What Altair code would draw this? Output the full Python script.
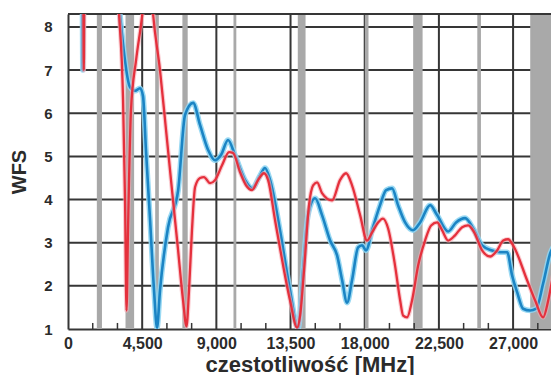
import altair as alt
import pandas as pd

# ---- data (frequency in kHz, WFS) ----
freq_blue = [700, 860, 900, 940, 2900, 3150, 3760, 4070, 4370, 4550, 4730, 4980, 5220, 5400,
             5580, 6070, 6680, 7100, 7590, 8010, 8500, 8920, 9280, 9710, 10130, 10740,
             11170, 11650, 11950, 12260, 12860, 13470, 13960, 14260, 14560, 14990, 15410,
             15900, 16320, 16630, 16930, 17230, 17600, 17840, 18080, 18450, 18930, 19300,
             19660, 20020, 20450, 20930, 21360, 21970, 22390, 23060, 23540, 24090, 24580,
             25120, 25730, 26210, 26640, 26940, 27250, 27610, 28030, 28400, 28820, 29250, 29800]
wfs_blue = [9.4, 9.4, 7.0, 9.4, 9.4, 8.3, 6.61, 6.52, 6.58, 6.40, 5.14, 3.52, 1.89, 1.03,
            1.89, 3.36, 4.21, 5.96, 6.24, 5.73, 5.15, 4.91, 5.03, 5.38, 5.03, 4.45,
            4.26, 4.56, 4.73, 4.45, 3.29, 1.89, 1.01, 2.36, 3.64, 4.03, 3.64,
            3.05, 2.71, 2.13, 1.61, 2.13, 2.89, 2.94, 2.82, 3.29, 3.87, 4.22,
            4.26, 3.87, 3.47, 3.29, 3.47, 3.87, 3.64, 3.26, 3.47, 3.57, 3.33,
            2.94, 2.82, 2.78, 2.78, 2.24, 1.85, 1.47, 1.43, 1.47, 2.05, 2.75, 3.05]

freq_red = [760, 920, 960, 1000, 2900, 3095, 3340, 3460, 3550, 3640, 3820, 4130, 4430, 4610,
            4980, 5160, 5580, 5950, 6310, 6680, 6980, 7190, 7340, 7520, 7710, 8010, 8250,
            8620, 8920, 9350, 9770, 10010, 10440, 10800, 11170, 11530, 11890, 12140, 12560,
            13050, 13470, 13900, 14080, 14320, 14620, 14870, 15110, 15410, 16020, 16500,
            16870, 17230, 17720, 18140, 18450, 18810, 19110, 19420, 19840, 20150, 20330,
            20570, 20870, 21240, 21660, 22030, 22390, 22690, 23060, 23480, 23910, 24270,
            24640, 25120, 25610, 26030, 26400, 26700, 27000, 27850, 28340, 28820, 29130,
            29370, 29800]
wfs_red = [9.4, 9.4, 7.0, 9.4, 9.4, 8.3, 6.31, 3.98, 1.43, 3.29, 6.07, 7.23, 8.05, 8.6,
           9.2, 8.3, 7.0, 5.6, 4.22, 2.82, 1.66, 1.06, 1.89, 3.29, 4.29, 4.50, 4.52,
           4.38, 4.45, 4.80, 5.10, 5.08, 4.63, 4.33, 4.22, 4.45, 4.61, 4.45, 3.52,
           2.47, 1.66, 1.03, 1.31, 2.36, 3.87, 4.33, 4.40, 4.15, 3.98, 4.45,
           4.61, 4.33, 3.64, 3.05, 3.24, 3.47, 3.56, 3.33, 2.47, 1.66, 1.31,
           1.27, 1.66, 2.47, 3.05, 3.40, 3.47, 3.29, 3.05, 3.17, 3.36, 3.40,
           3.24, 2.82, 2.68, 2.82, 3.05, 3.08, 2.94, 2.13, 1.66, 1.27, 1.66,
           2.13, 3.00]

band_start = [1810, 3550, 5350, 7000, 10100, 14000, 18068, 21000, 24890, 28100]
band_end = [2000, 3950, 5450, 7200, 10150, 14350, 18168, 21450, 24990, 29800]

x_ticks = [0, 4500, 9000, 13500, 18000, 22500, 27000]
minor_ticks = [1500, 3000, 6000, 7500, 10500, 12000, 15000, 16500, 19500, 21000, 24000, 25500, 28500]
y_ticks = [1, 2, 3, 4, 5, 6, 7, 8]

X_DOMAIN = [0, 29300]
Y_DOMAIN = [1, 8.3]
W, H = 483, 315

blue = pd.DataFrame({"f": freq_blue, "v": wfs_blue, "o": range(len(freq_blue))})
red = pd.DataFrame({"f": freq_red, "v": wfs_red, "o": range(len(freq_red))})
bands = pd.DataFrame({"a": band_start, "b": band_end})
ticks = pd.DataFrame({"f": minor_ticks, "y0": [1.0] * len(minor_ticks), "y1": [1.14] * len(minor_ticks)})
vgrid = pd.DataFrame({"f": x_ticks[1:]})
hgrid = pd.DataFrame({"v": y_ticks[1:]})

xs = alt.Scale(domain=X_DOMAIN, nice=False, zero=False)
ys = alt.Scale(domain=Y_DOMAIN, nice=False, zero=False)

FONT = "Liberation Sans"
TXT = "#2b2b2b"
GRID = "#363636"
BAND = "#a9a9a9"

x_axis = alt.Axis(values=x_ticks, format=",d", labelFlush=False, labelFont=FONT,
                  labelFontSize=16, labelFontWeight="bold", labelColor=TXT, labelPadding=6,
                  tickSize=0, grid=False, domainColor=GRID,
                  domainWidth=2, title="czestotliwość [MHz]", titleFont=FONT,
                  titleFontSize=22, titleFontWeight="bold", titleColor=TXT, titlePadding=3)
y_axis = alt.Axis(values=y_ticks, labelFont=FONT, labelFontSize=15, labelFontWeight="bold",
                  labelColor=TXT, labelPadding=16, tickSize=0, grid=False,
                  domainColor=GRID, domainWidth=2, title="WFS", titleFont=FONT,
                  titleFontSize=20, titleFontWeight="bold", titleColor=TXT, titlePadding=14)


def X(field):
    return alt.X(field, scale=xs, axis=x_axis)


def Y(field):
    return alt.Y(field, scale=ys, axis=y_axis)


vgrid_layer = alt.Chart(vgrid).mark_rule(color=GRID, strokeWidth=2).encode(
    x=X("f:Q"), y=alt.value(0), y2=alt.value(H)
)
hgrid_layer = alt.Chart(hgrid).mark_rule(color=GRID, strokeWidth=2).encode(
    y=Y("v:Q"), x=alt.value(0), x2=alt.value(W)
)

band_layer = alt.Chart(bands).mark_rect(color=BAND, stroke=BAND, strokeWidth=2, clip=True).encode(
    x=X("a:Q"), x2="b:Q", y=alt.value(0), y2=alt.value(H),
)

tick_layer = alt.Chart(ticks).mark_rule(color=GRID, strokeWidth=1.5).encode(
    x=X("f:Q"), y=Y("y0:Q"), y2="y1:Q",
)

top_border = alt.Chart(vgrid).mark_rule(color=GRID, strokeWidth=2).encode(
    x=alt.value(0), x2=alt.value(W), y=alt.value(0)
)


def line(df, color, width, opacity=1.0):
    return alt.Chart(df).mark_line(color=color, strokeWidth=width, opacity=opacity,
                                   interpolate="monotone", clip=True).encode(
        x=X("f:Q"), y=Y("v:Q"), order="o:Q",
    )


chart = alt.layer(
    hgrid_layer,
    vgrid_layer,
    band_layer,
    tick_layer,
    top_border,
    line(blue, "#8fd5f2", 5.5, 0.9),
    line(blue, "#1b84c4", 2.6),
    line(red, "#f6aab2", 4.5, 0.6),
    line(red, "#e5303c", 2.3),
).properties(
    width=W,
    height=H,
    padding={"left": 60, "top": 6, "right": 0, "bottom": 46},
    autosize=alt.AutoSizeParams(type="none"),
).configure_view(stroke=None)

chart.save("out.html", embed_options={"renderer": "svg", "actions": False})
